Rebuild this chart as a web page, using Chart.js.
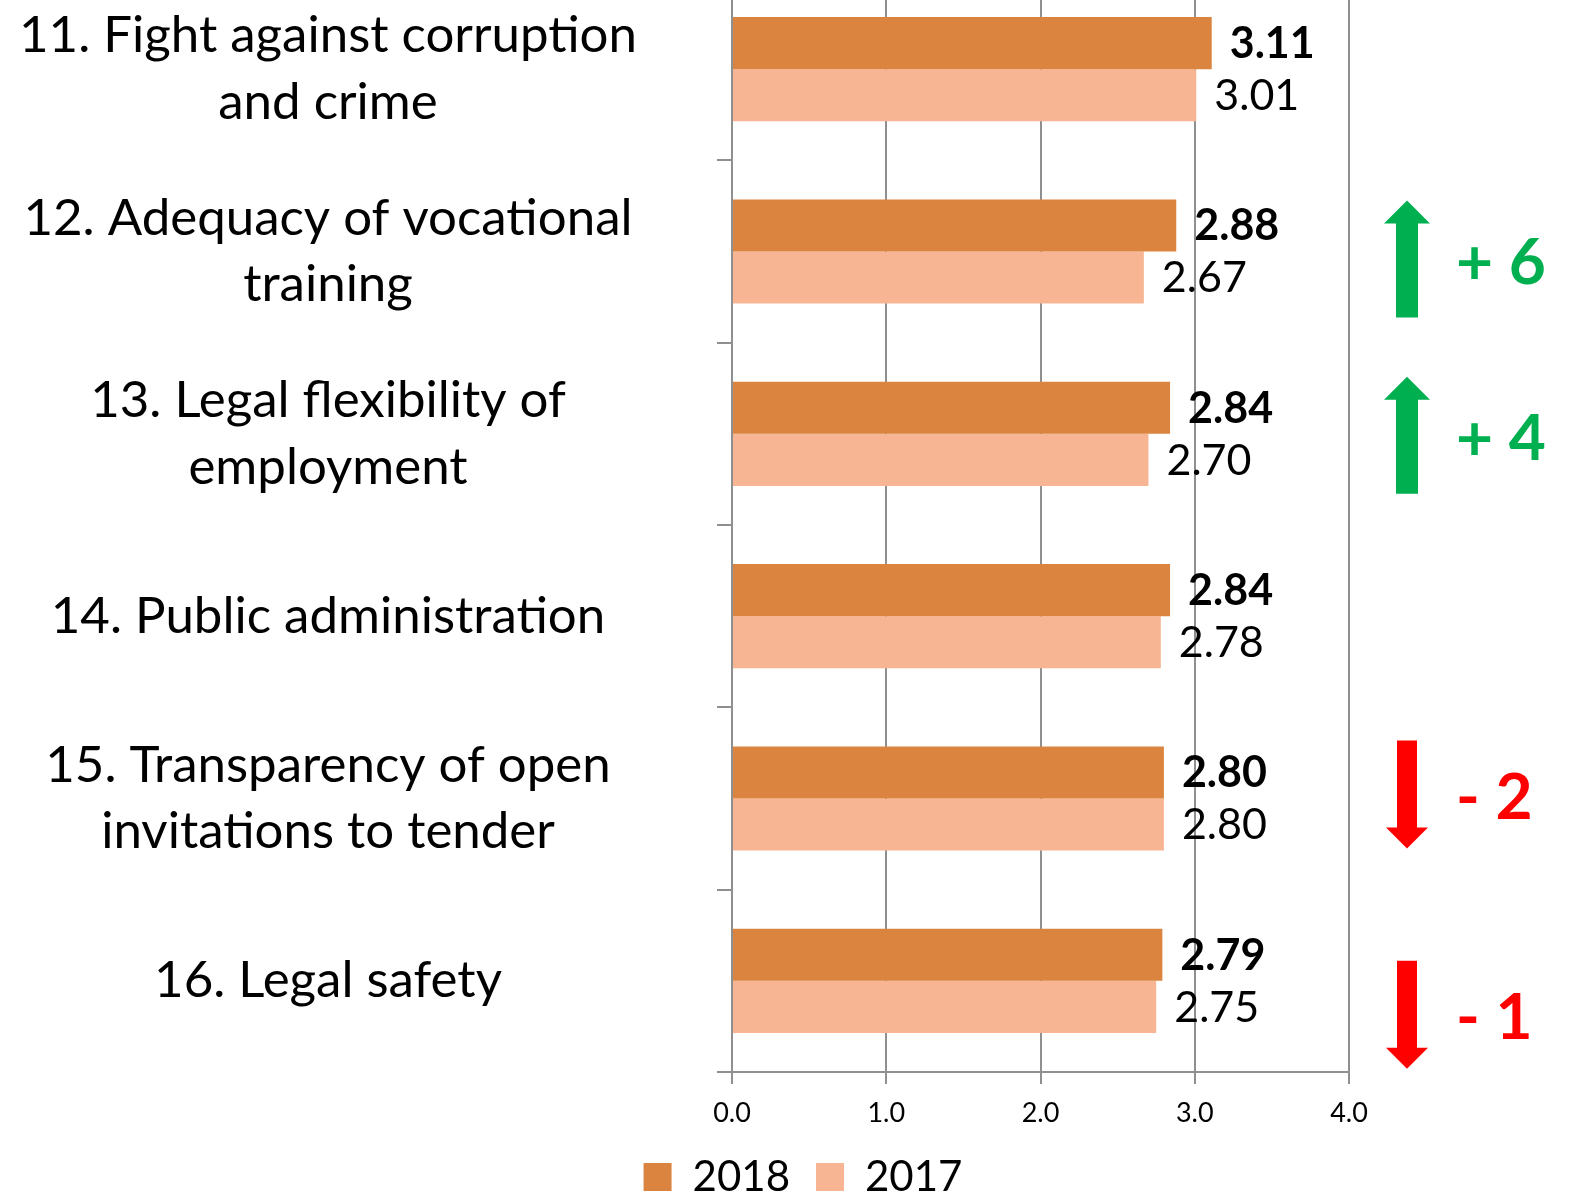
<!DOCTYPE html>
<html>
<head>
<meta charset="utf-8">
<script src="https://cdn.jsdelivr.net/npm/chart.js"></script>
<style>
  html, body { margin: 0; padding: 0; background: #fff; overflow: hidden; }
  #wrap { position: absolute; left: 0; top: -22px; width: 1570px; height: 1230px; }
</style>
</head>
<body>
<div id="wrap"><canvas id="chart" width="1570" height="1230" style="width:1570px;height:1230px"></canvas></div>
<script>
const categories = [
  ['11. Fight against corruption', 'and crime'],
  ['12. Adequacy of vocational', 'training'],
  ['13. Legal flexibility of', 'employment'],
  '14. Public administration',
  ['15. Transparency of open', 'invitations to tender'],
  '16. Legal safety'
];
const values2018 = [3.11, 2.88, 2.84, 2.84, 2.80, 2.79];
const values2017 = [3.01, 2.67, 2.70, 2.78, 2.80, 2.75];
// change in ranking vs last year
const rankChange = [null, 6, 4, null, -2, -1];

const gridGray = '#8f8f8f';
const fontFamily = 'Lato, "Open Sans", sans-serif';

const valueLabels = {
  id: 'valueLabels',
  afterDatasetsDraw(chart) {
    const ctx = chart.ctx;
    ctx.save();
    ctx.fillStyle = '#000';
    ctx.textAlign = 'left';
    ctx.textBaseline = 'middle';
    chart.data.datasets.forEach((ds, i) => {
      ctx.font = (i === 0 ? 'bold ' : '') + '43px ' + fontFamily;
      chart.getDatasetMeta(i).data.forEach((bar, j) => {
        ctx.fillText(ds.data[j].toFixed(2), bar.x + 18, bar.y + 1);
      });
    });
    ctx.restore();
  }
};

const rankArrows = {
  id: 'rankArrows',
  afterLayout(chart) {
    // legend sits centred under the whole picture, not under the plot
    chart.legend.left = 36;
    chart.legend.right = 1570;
  },
  afterDraw(chart, args, opts) {
    const ctx = chart.ctx;
    const y = chart.scales.y;
    const ax = chart.chartArea.right + 58;
    ctx.save();
    rankChange.forEach((d, i) => {
      if (d === null) return;
      const c = y.getPixelForValue(i) + opts.shift[i];
      const up = d > 0;
      ctx.fillStyle = up ? '#00b050' : '#ff0000';
      ctx.beginPath();
      if (up) {
        const tip = c - 54, base = c - 31, end = c + 63;
        ctx.moveTo(ax, tip);
        ctx.lineTo(ax + 23, base);
        ctx.lineTo(ax + 11, base);
        ctx.lineTo(ax + 11, end);
        ctx.lineTo(ax - 11, end);
        ctx.lineTo(ax - 11, base);
        ctx.lineTo(ax - 23, base);
      } else {
        const top = c - 39, base = c + 48, tip = c + 69;
        ctx.moveTo(ax - 10, top);
        ctx.lineTo(ax + 10, top);
        ctx.lineTo(ax + 10, base);
        ctx.lineTo(ax + 21, base);
        ctx.lineTo(ax, tip);
        ctx.lineTo(ax - 21, base);
        ctx.lineTo(ax - 10, base);
      }
      ctx.closePath();
      ctx.fill();
      const mid = up ? c + 4.5 : c + 15;
      ctx.font = 'bold 64px ' + fontFamily;
      ctx.textAlign = 'left';
      ctx.textBaseline = 'middle';
      ctx.fillText((up ? '+ ' : '- ') + Math.abs(d), chart.chartArea.right + 107, mid + 4);
    });
    ctx.restore();
  }
};

new Chart(document.getElementById('chart'), {
  type: 'bar',
  data: {
    labels: categories,
    datasets: [
      { label: '2018', data: values2018, backgroundColor: '#db843f' },
      { label: '2017', data: values2017, backgroundColor: '#f8b593' }
    ]
  },
  options: {
    indexAxis: 'y',
    responsive: false,
    animation: false,
    layout: { padding: { left: 0, right: 221, top: 0, bottom: 0 } },
    datasets: { bar: { categoryPercentage: 0.571, barPercentage: 1.0 } },
    scales: {
      x: {
        min: 0,
        max: 4,
        ticks: {
          stepSize: 1,
          color: '#000',
          padding: 13,
          font: { family: fontFamily, size: 27 },
          callback: (v) => Number(v).toFixed(1)
        },
        grid: { color: gridGray, lineWidth: 2, tickLength: 12 },
        border: { color: gridGray, width: 2 },
        afterFit(scale) { scale.height = 58; }
      },
      y: {
        ticks: {
          color: '#000',
          crossAlign: 'center',
          font: { family: fontFamily, size: 51, lineHeight: 1.31 }
        },
        grid: { drawOnChartArea: false, color: gridGray, lineWidth: 2, tickLength: 15 },
        border: { color: gridGray, width: 2 },
        afterFit(scale) {
          scale.width = 732;
          const widest = scale._getLabelSizes().widest.width;
          scale.options.ticks.padding = 732 - 15 - 328 - widest / 2;
          scale.paddingTop = 0;
          scale.paddingBottom = 0;
        }
      }
    },
    plugins: {
      legend: {
        position: 'bottom',
        labels: {
          boxWidth: 28,
          boxHeight: 28,
          padding: 26,
          color: '#000',
          font: { family: fontFamily, size: 42 }
        }
      },
      tooltip: { enabled: false },
      rankArrows: { shift: [0, 3, -3, 0, -19, 19] }
    }
  },
  plugins: [valueLabels, rankArrows]
});
</script>
</body>
</html>
